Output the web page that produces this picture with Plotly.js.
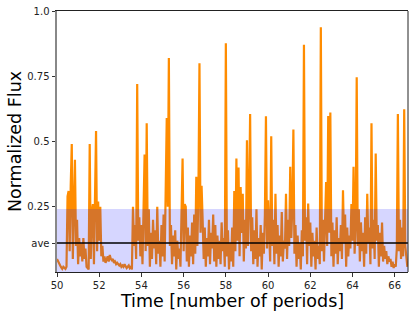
<!DOCTYPE html>
<html>
<head>
<meta charset="utf-8">
<script src="https://cdn.plot.ly/plotly-3.0.1.min.js"></script>
<style>html,body{margin:0;padding:0;background:#fff;}#chart{width:416px;height:317px;}</style>
</head>
<body>
<div id="chart"></div>
<script>
const time = [
50.00,50.05,50.10,50.15,50.20,50.25,50.30,50.35,50.40,50.45,
50.50,50.55,50.60,50.65,50.70,50.75,50.80,50.85,50.90,50.95,
51.00,51.05,51.10,51.15,51.20,51.25,51.30,51.35,51.40,51.45,
51.50,51.55,51.60,51.65,51.70,51.75,51.80,51.85,51.90,51.95,
52.00,52.05,52.10,52.15,52.20,52.25,52.30,52.35,52.40,52.45,
52.50,52.55,52.60,52.65,52.70,52.75,52.80,52.85,52.90,52.95,
53.00,53.05,53.10,53.15,53.20,53.25,53.30,53.35,53.40,53.45,
53.50,53.55,53.60,53.65,53.70,53.75,53.80,53.85,53.90,53.95,
54.00,54.05,54.10,54.15,54.20,54.25,54.30,54.35,54.40,54.45,
54.50,54.55,54.60,54.65,54.70,54.75,54.80,54.85,54.90,54.95,
55.00,55.05,55.10,55.15,55.20,55.25,55.30,55.35,55.40,55.45,
55.50,55.55,55.60,55.65,55.70,55.75,55.80,55.85,55.90,55.95,
56.00,56.05,56.10,56.15,56.20,56.25,56.30,56.35,56.40,56.45,
56.50,56.55,56.60,56.65,56.70,56.75,56.80,56.85,56.90,56.95,
57.00,57.05,57.10,57.15,57.20,57.25,57.30,57.35,57.40,57.45,
57.50,57.55,57.60,57.65,57.70,57.75,57.80,57.85,57.90,57.95,
58.00,58.05,58.10,58.15,58.20,58.25,58.30,58.35,58.40,58.45,
58.50,58.55,58.60,58.65,58.70,58.75,58.80,58.85,58.90,58.95,
59.00,59.05,59.10,59.15,59.20,59.25,59.30,59.35,59.40,59.45,
59.50,59.55,59.60,59.65,59.70,59.75,59.80,59.85,59.90,59.95,
60.00,60.05,60.10,60.15,60.20,60.25,60.30,60.35,60.40,60.45,
60.50,60.55,60.60,60.65,60.70,60.75,60.80,60.85,60.90,60.95,
61.00,61.05,61.10,61.15,61.20,61.25,61.30,61.35,61.40,61.45,
61.50,61.55,61.60,61.65,61.70,61.75,61.80,61.85,61.90,61.95,
62.00,62.05,62.10,62.15,62.20,62.25,62.30,62.35,62.40,62.45,
62.50,62.55,62.60,62.65,62.70,62.75,62.80,62.85,62.90,62.95,
63.00,63.05,63.10,63.15,63.20,63.25,63.30,63.35,63.40,63.45,
63.50,63.55,63.60,63.65,63.70,63.75,63.80,63.85,63.90,63.95,
64.00,64.05,64.10,64.15,64.20,64.25,64.30,64.35,64.40,64.45,
64.50,64.55,64.60,64.65,64.70,64.75,64.80,64.85,64.90,64.95,
65.00,65.05,65.10,65.15,65.20,65.25,65.30,65.35,65.40,65.45,
65.50,65.55,65.60,65.65,65.70,65.75,65.80,65.85,65.90,65.95,
66.00,66.05,66.10,66.15,66.20,66.25,66.30,66.35,66.40,66.45,
66.50,66.55,66.60
];
const flux = [
0.05,0.04,0.035,0.025,0.018,0.012,0.02,0.015,0.012,0.02,
0.29,0.31,0.08,0.33,0.49,0.05,0.24,0.43,0.10,0.20,
0.03,0.13,0.06,0.11,0.04,0.13,0.05,0.09,0.02,0.015,
0.01,0.49,0.05,0.23,0.26,0.03,0.27,0.54,0.08,0.27,
0.12,0.25,0.06,0.10,0.04,0.06,0.035,0.05,0.06,0.04,
0.065,0.05,0.045,0.05,0.035,0.04,0.03,0.035,0.03,0.025,
0.03,0.02,0.025,0.02,0.03,0.02,0.015,0.02,0.025,0.015,
0.02,0.01,0.25,0.10,0.18,0.05,0.72,0.12,0.21,0.06,
0.18,0.03,0.22,0.45,0.08,0.57,0.10,0.24,0.02,0.15,
0.05,0.20,0.09,0.16,0.03,0.25,0.07,0.12,0.02,0.18,
0.06,0.22,0.04,0.28,0.59,0.25,0.82,0.10,0.18,0.03,
0.14,0.06,0.16,0.01,0.12,0.05,0.09,0.02,0.20,0.435,
0.08,0.26,0.25,0.04,0.17,0.02,0.14,0.06,0.19,0.03,
0.22,0.07,0.365,0.10,0.30,0.80,0.15,0.33,0.20,0.05,
0.17,0.02,0.13,0.06,0.20,0.03,0.15,0.09,0.22,0.04,
0.18,0.02,0.14,0.05,0.12,0.03,0.19,0.08,0.13,0.02,
0.876,0.06,0.16,0.01,0.11,0.04,0.17,0.02,0.31,0.08,
0.435,0.12,0.40,0.06,0.326,0.15,0.30,0.04,0.20,0.09,
0.505,0.10,0.26,0.605,0.08,0.21,0.03,0.16,0.05,0.24,
0.02,0.13,0.06,0.18,0.01,0.15,0.07,0.22,0.597,0.09,
0.275,0.12,0.04,0.52,0.10,0.20,0.03,0.30,0.07,0.18,
0.02,0.14,0.06,0.23,0.04,0.12,0.09,0.30,0.05,0.20,
0.10,0.403,0.13,0.25,0.546,0.07,0.18,0.02,0.14,0.05,
0.11,0.01,0.16,0.06,0.871,0.12,0.21,0.03,0.262,0.10,
0.19,0.02,0.15,0.06,0.12,0.01,0.17,0.05,0.10,0.03,
0.938,0.08,0.20,0.04,0.23,0.345,0.10,0.598,0.15,0.611,
0.06,0.19,0.02,0.16,0.07,0.21,0.03,0.13,0.08,0.18,
0.05,0.313,0.11,0.22,0.02,0.17,0.06,0.14,0.09,0.26,
0.12,0.403,0.07,0.18,0.746,0.10,0.24,0.04,0.19,0.08,
0.15,0.02,0.21,0.07,0.30,0.11,0.17,0.03,0.57,0.09,
0.20,0.05,0.454,0.12,0.18,0.02,0.15,0.06,0.19,0.04,
0.10,0.05,0.08,0.03,0.06,0.04,0.05,0.02,0.04,0.015,
0.03,0.02,0.09,0.605,0.08,0.20,0.05,0.17,0.06,0.624,
0.10,0.04,0.02
];
const aveLevel = 0.111;
const bandTop = 0.241;
const xTicks = [50, 52, 54, 56, 58, 60, 62, 64, 66];
const yTickVals = [aveLevel, 0.25, 0.5, 0.75, 1.0];
const yTickText = ['ave', '0.25', '0.5', '0.75', '1.0'];

const font = 'DejaVu Sans, Arial, sans-serif';
const trace = {
  x: time, y: flux, type: 'scatter', mode: 'lines',
  line: {color: '#ff8c00', width: 2.2}, hoverinfo: 'skip'
};
const layout = {
  width: 416, height: 317,
  margin: {l: 57, r: 8, t: 11, b: 45},
  paper_bgcolor: '#fff', plot_bgcolor: '#fff',
  showlegend: false,
  font: {family: font, color: '#000'},
  xaxis: {
    range: [50, 66.63], tickvals: xTicks, ticktext: xTicks.map(String),
    ticks: 'outside', ticklen: 3.5, tickcolor: '#333', tickwidth: 1,
    tickfont: {size: 10, family: font, color: '#222'},
    showline: true, linecolor: '#222', linewidth: 1, mirror: true,
    showgrid: false, zeroline: false,
    title: {text: 'Time [number of periods]', font: {size: 17.5, family: font, color: '#000'}, standoff: 4}
  },
  yaxis: {
    range: [0, 1], tickvals: yTickVals, ticktext: yTickText,
    ticks: 'outside', ticklen: 3.5, tickcolor: '#333', tickwidth: 1,
    tickfont: {size: 10, family: font, color: '#222'},
    showline: true, linecolor: '#888', linewidth: 2,
    showgrid: false, zeroline: false,
    title: {text: 'Normalized Flux', font: {size: 17.5, family: font, color: '#000'}, standoff: 1}
  },
  shapes: [
    {type: 'rect', xref: 'paper', yref: 'y', x0: 0, x1: 1, y0: 0, y1: bandTop,
     fillcolor: 'rgba(0,0,255,0.16)', line: {width: 0}, layer: 'above'},
    {type: 'line', xref: 'paper', yref: 'y', x0: 0, x1: 1, y0: aveLevel, y1: aveLevel,
     line: {color: '#000', width: 1.5}, layer: 'above'},
    {type: 'line', xref: 'paper', yref: 'paper', x0: 1, x1: 1, y0: 0, y1: 1,
     line: {color: '#222', width: 1}, layer: 'above'}
  ]
};
Plotly.newPlot('chart', [trace], layout, {displayModeBar: false, staticPlot: true});
</script>
</body>
</html>
